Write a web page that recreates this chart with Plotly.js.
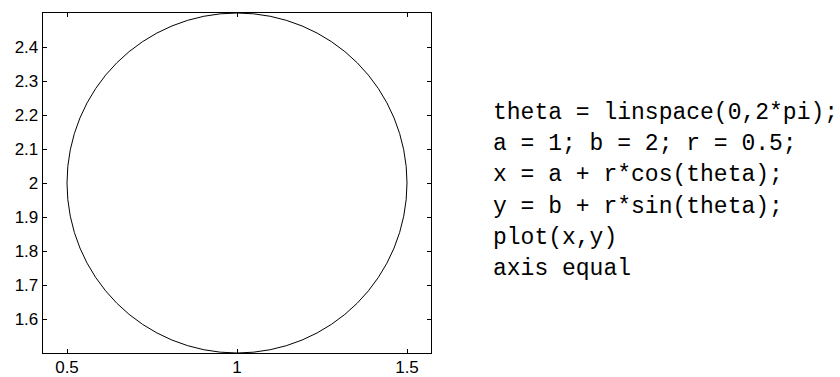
<!DOCTYPE html>
<html>
<head>
<meta charset="utf-8">
<script src="https://cdn.plot.ly/plotly-3.0.1.min.js"></script>
<style>
  html, body { margin: 0; padding: 0; background: #fff; }
  #plot { width: 840px; height: 377px; }
</style>
</head>
<body>
<div id="plot"></div>
<script>
// Circle parameters: centre (a, b) and radius r
const circleCenter = [1, 2];
const circleRadius = [0.5];

// Axis ticks
const xTickValues = [0.5, 1, 1.5];
const xTickLabels = ['0.5', '1', '1.5'];
const yTickValues = [1.6, 1.7, 1.8, 1.9, 2.0, 2.1, 2.2, 2.3, 2.4];
const yTickLabels = ['1.6', '1.7', '1.8', '1.9', '2', '2.1', '2.2', '2.3', '2.4'];

// Code listing shown beside the axes
const codeLines = [
  'theta = linspace(0,2*pi);',
  'a = 1; b = 2; r = 0.5;',
  'x = a + r*cos(theta);',
  'y = b + r*sin(theta);',
  'plot(x,y)',
  'axis equal'
];

const W = 840, H = 377;
const margin = { l: 43, r: 409, t: 13, b: 24, pad: 0 };
const plotW = W - margin.l - margin.r;
const plotH = H - margin.t - margin.b;

// pixel <-> paper helpers for the side text
const pxToPaperX = px => (px - margin.l) / plotW;
const pxToPaperY = py => (H - margin.b - py) / plotH;

const [a, b] = circleCenter;
const r = circleRadius[0];

const axisCommon = {
  showgrid: false,
  zeroline: false,
  showline: true,
  linecolor: '#000',
  linewidth: 1.3,
  mirror: 'ticks',
  ticks: 'inside',
  ticklen: 4,
  tickwidth: 1,
  tickcolor: '#000',
  tickfont: { family: '"Liberation Sans", Arial, sans-serif', size: 17, color: '#000' }
};

const layout = {
  width: W,
  height: H,
  margin: margin,
  paper_bgcolor: '#fff',
  plot_bgcolor: '#fff',
  showlegend: false,
  xaxis: Object.assign({}, axisCommon, {
    range: [0.4294, 1.5706],
    tickmode: 'array',
    tickvals: xTickValues,
    ticktext: xTickLabels,
    ticklabelstandoff: -2
  }),
  yaxis: Object.assign({}, axisCommon, {
    range: [1.5, 2.5],
    tickmode: 'array',
    tickvals: yTickValues,
    ticktext: yTickLabels
  }),
  shapes: [{
    type: 'circle',
    xref: 'x', yref: 'y',
    x0: a - r, x1: a + r,
    y0: b - r, y1: b + r,
    line: { color: '#000', width: 1 },
    fillcolor: 'rgba(0,0,0,0)'
  }],
  annotations: codeLines.map((line, i) => ({
    text: line,
    xref: 'paper', yref: 'paper',
    x: pxToPaperX(491),
    y: pxToPaperY(113 + i * 31.2),
    xanchor: 'left', yanchor: 'middle',
    showarrow: false,
    align: 'left',
    font: { family: '"Liberation Mono", "Courier New", monospace', size: 23, color: '#000' }
  }))
};

Plotly.newPlot('plot', [], layout, { staticPlot: true, displayModeBar: false });
</script>
</body>
</html>
